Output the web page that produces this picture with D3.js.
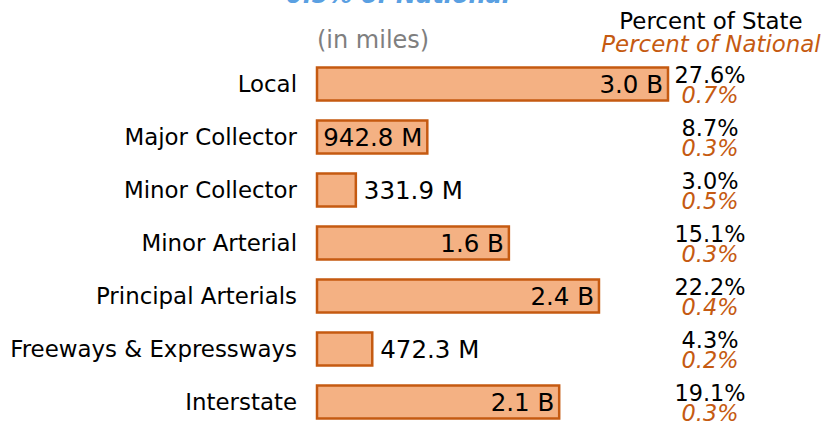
<!DOCTYPE html>
<html>
<head>
<meta charset="utf-8">
<script src="https://cdn.jsdelivr.net/npm/d3@7"></script>
<style>
  body { margin: 0; background: #fff; }
  svg { display: block; font-family: "DejaVu Sans", sans-serif; }
</style>
</head>
<body>
<div id="chart"></div>
<script>
// Road mileage by functional class
const categories = ["Local", "Major Collector", "Minor Collector", "Minor Arterial",
    "Principal Arterials", "Freeways & Expressways", "Interstate"];
const miles = [3.0e9, 942.8e6, 331.9e6, 1.64e9, 2.41e9, 472.3e6, 2.07e9];
const pctState = ["27.6%", "8.7%", "3.0%", "15.1%", "22.2%", "4.3%", "19.1%"];
const pctNational = ["0.7%", "0.3%", "0.5%", "0.3%", "0.4%", "0.2%", "0.3%"];

const width = 821;
const height = 422;
const labelSize = 22.9;
const valueSize = 24.5;
const pctSize = 22.4;
const barH = 33;
const dark = "#c55a11";

const svg = d3.select("#chart")
    .append("svg")
    .attr("width", width)
    .attr("height", height);

// Scales
const x = d3.scaleLinear().domain([0, 3.0e9]).range([317, 668]);
const y = d3.scalePoint().domain(categories).range([84, 402]);

const fmt = v => v >= 1e9 ? (v / 1e9).toFixed(1) + " B" : (v / 1e6).toFixed(1) + " M";

// Title remnant (cut off at the top)
svg.append("text")
    .attr("x", 398)
    .attr("y", 3)
    .attr("text-anchor", "middle")
    .attr("font-size", 24)
    .attr("font-weight", "bold")
    .attr("font-style", "italic")
    .attr("fill", "#5aa0e2")
    .text("0.5% of National");

svg.append("text")
    .attr("x", 317)
    .attr("y", 48)
    .attr("font-size", 24)
    .attr("fill", "#7f7f7f")
    .text("(in miles)");

// Column headers
svg.append("text")
    .attr("x", 711)
    .attr("y", 29)
    .attr("text-anchor", "middle")
    .attr("font-size", labelSize)
    .attr("fill", "#000")
    .text("Percent of State");

svg.append("text")
    .attr("x", 711)
    .attr("y", 52)
    .attr("text-anchor", "middle")
    .attr("font-size", labelSize)
    .attr("font-style", "italic")
    .attr("fill", dark)
    .text("Percent of National");

const rows = categories.map((c, i) => ({
    cat: c, value: miles[i], state: pctState[i], nat: pctNational[i]
}));

// Category labels
svg.append("g")
    .selectAll("text")
    .data(rows)
    .join("text")
    .attr("x", 297)
    .attr("y", d => y(d.cat))
    .attr("dy", "0.36em")
    .attr("text-anchor", "end")
    .attr("font-size", labelSize)
    .attr("fill", "#000")
    .text(d => d.cat);

// Bars
svg.append("g")
    .selectAll("rect")
    .data(rows)
    .join("rect")
    .attr("x", x(0))
    .attr("y", d => y(d.cat) - barH / 2)
    .attr("width", d => x(d.value) - x(0))
    .attr("height", barH)
    .attr("fill", "#f4b183")
    .attr("stroke", dark)
    .attr("stroke-width", 2.5);

// Value labels: inside if they fit, otherwise outside
svg.append("g")
    .selectAll("text")
    .data(rows)
    .join("text")
    .attr("y", d => y(d.cat))
    .attr("dy", "0.36em")
    .attr("font-size", valueSize)
    .attr("fill", "#000")
    .text(d => fmt(d.value))
    .each(function (d) {
        const w = this.getComputedTextLength();
        const barW = x(d.value) - x(0);
        const t = d3.select(this);
        if (w + 6 < barW) {
            t.attr("x", x(d.value) - 5).attr("text-anchor", "end");
        } else {
            t.attr("x", x(d.value) + 8).attr("text-anchor", "start");
        }
    });

// Percent columns
svg.append("g")
    .selectAll("text")
    .data(rows)
    .join("text")
    .attr("x", 710)
    .attr("y", d => y(d.cat) - 1)
    .attr("text-anchor", "middle")
    .attr("font-size", pctSize)
    .attr("fill", "#000")
    .text(d => d.state);

svg.append("g")
    .selectAll("text")
    .data(rows)
    .join("text")
    .attr("x", 710)
    .attr("y", d => y(d.cat) + 19)
    .attr("text-anchor", "middle")
    .attr("font-size", pctSize)
    .attr("font-style", "italic")
    .attr("fill", dark)
    .text(d => d.nat);
</script>
</body>
</html>
